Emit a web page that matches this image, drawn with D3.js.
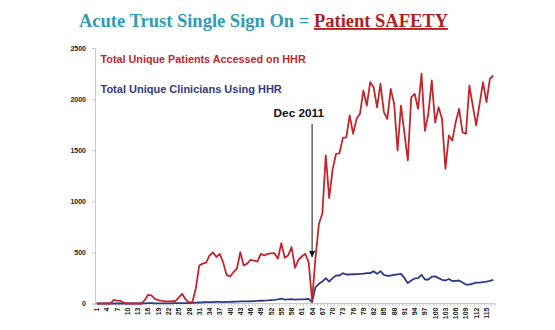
<!DOCTYPE html>
<html>
<head>
<meta charset="utf-8">
<script src="https://cdn.jsdelivr.net/npm/d3@7"></script>
<style>
  html, body { margin: 0; padding: 0; background: #fff; }
  svg { display: block; }
</style>
</head>
<body>
<svg id="chart" width="555" height="330"></svg>
<script>
// ---- Data ----
const categories = d3.range(1, 118); // 1..117
const patients = [
  0, 0, 0, 0, 0, 35, 28, 25, 5, 0,
  0, 0, 0, 0, 30, 85, 80, 46, 32, 25,
  22, 20, 22, 22, 60, 95, 40, 10, 15, 150,
  372, 390, 400, 470, 500, 455, 486, 400, 280, 264,
  306, 340, 502, 372, 390, 428, 420, 410, 486, 470,
  486, 490, 492, 437, 590, 447, 470, 551, 349, 428,
  460, 486, 404, 30, 450, 780, 880, 1450, 1030, 1310,
  1465, 1470, 1621, 1625, 1840, 1660, 1807, 1856, 2084, 1937,
  2166, 2117, 1920, 2150, 1872, 1807, 2100, 1954, 1497, 1937,
  1670, 1400, 2018, 2052, 1905, 2248, 1690, 1856, 2182, 1770,
  1920, 1807, 1318, 1644, 1595, 1774, 1905, 1676, 1660, 2133,
  1937, 1742, 1954, 2166, 1970, 2199, 2231
];
const clinicians = [
  0, 0, 0, 0, 0, 0, 0, 0, 0, 0,
  0, 0, 0, 0, 2, 3, 3, 2, 2, 2,
  2, 2, 2, 3, 3, 3, 3, 5, 6, 8,
  10, 12, 13, 14, 14, 15, 15, 14, 15, 16,
  17, 18, 20, 20, 21, 22, 24, 25, 27, 28,
  30, 33, 35, 40, 48, 38, 40, 42, 38, 40,
  40, 42, 45, 13, 160, 193, 215, 248, 215, 248,
  274, 274, 297, 284, 284, 286, 288, 290, 292, 297,
  297, 316, 290, 316, 280, 271, 274, 280, 286, 290,
  250, 199, 225, 245, 248, 281, 235, 235, 262, 265,
  248, 232, 225, 240, 220, 222, 225, 205, 185, 185,
  195, 205, 205, 210, 215, 222, 232
];
const yTicks = [0, 500, 1000, 1500, 2000, 2500];
const xTickLabels = categories.filter(c => (c - 1) % 3 === 0);
const titleMain = "Acute Trust Single Sign On = ";
const titleEmph = "Patient SAFETY";
const seriesNames = ["Total Unique Patients Accessed on HHR", "Total Unique Clinicians Using HHR"];
const annotation = { label: "Dec 2011", category: 64 };

// ---- Layout ----
const svg = d3.select("#chart");
const x = d3.scaleBand().domain(categories).range([95, 495]);
const y = d3.scaleLinear().domain([0, 2500]).range([303.5, 48]);
const cx = c => x(c) + x.bandwidth() / 2;

const red = "#c0272d";
const blue = "#2f3a85";

// Title
const title = svg.append("text")
  .attr("x", 263.5).attr("y", 27)
  .attr("text-anchor", "middle")
  .style("font-family", "'Liberation Serif', 'Times New Roman', serif")
  .style("font-weight", "bold")
  .style("font-size", "18.5px");
title.append("tspan").text(titleMain).attr("fill", "#2f9bb6");
title.append("tspan").text(titleEmph).attr("fill", "#b01e23")
  .style("text-decoration", "underline");

// Y axis
const yAxis = svg.append("g")
  .attr("transform", "translate(95,0)")
  .call(d3.axisLeft(y).tickValues(yTicks).tickSize(3).tickPadding(6).tickFormat(d3.format("d")));
yAxis.select(".domain").attr("stroke", "#c8c8c8");
yAxis.selectAll(".tick line").attr("stroke", "#c8c8c8");
yAxis.selectAll("text")
  .style("font-family", "'Liberation Sans', Arial, sans-serif")
  .style("font-weight", "bold")
  .style("font-size", "7px")
  .attr("fill", "#222");

// X axis
const xAxis = svg.append("g")
  .attr("transform", "translate(0,303.5)");
xAxis.append("line")
  .attr("x1", 95).attr("x2", 495).attr("y1", 0).attr("y2", 0)
  .attr("stroke", "#c8c8c8");
xAxis.selectAll("line.tk").data(categories.concat([118]))
  .join("line").attr("class", "tk")
  .attr("x1", c => c === 118 ? 495 : x(c))
  .attr("x2", c => c === 118 ? 495 : x(c))
  .attr("y1", 0).attr("y2", 2.5)
  .attr("stroke", "#c8c8c8");
xAxis.selectAll("text").data(xTickLabels).join("text")
  .attr("transform", c => `translate(${cx(c) + 2.5},4) rotate(-90)`)
  .attr("text-anchor", "end")
  .style("font-family", "'Liberation Sans', Arial, sans-serif")
  .style("font-weight", "bold")
  .style("font-size", "7px")
  .attr("fill", "#222")
  .text(c => c);

// Lines
const line = d3.line().x((d, i) => cx(categories[i])).y(d => y(d));
svg.append("path").datum(clinicians)
  .attr("d", line).attr("fill", "none")
  .attr("stroke", blue).attr("stroke-width", 1.8).attr("stroke-linejoin", "round");
svg.append("path").datum(patients)
  .attr("d", line).attr("fill", "none")
  .attr("stroke", red).attr("stroke-width", 1.8).attr("stroke-linejoin", "round");

// Legend texts
svg.append("text").attr("x", 100.5).attr("y", 63)
  .style("font-family", "'Liberation Sans', Arial, sans-serif")
  .style("font-weight", "bold").style("font-size", "10.8px")
  .attr("fill", red).text(seriesNames[0]);
svg.append("text").attr("x", 100.5).attr("y", 92.5)
  .style("font-family", "'Liberation Sans', Arial, sans-serif")
  .style("font-weight", "bold").style("font-size", "11px")
  .attr("fill", blue).text(seriesNames[1]);

// Annotation
const ax = cx(annotation.category);
svg.append("text").attr("x", ax + 12).attr("y", 117)
  .attr("text-anchor", "end")
  .style("font-family", "'Liberation Sans', Arial, sans-serif")
  .style("font-weight", "bold").style("font-size", "11.8px")
  .attr("fill", "#111").text(annotation.label);
svg.append("defs").append("marker")
  .attr("id", "arrow").attr("viewBox", "0 0 10 10")
  .attr("refX", 10).attr("refY", 5)
  .attr("markerWidth", 6).attr("markerHeight", 6)
  .attr("markerUnits", "userSpaceOnUse")
  .attr("orient", "auto")
  .append("path").attr("d", "M0,0 L10,5 L0,10 Z").attr("fill", "#111");
svg.append("line")
  .attr("x1", ax).attr("x2", ax)
  .attr("y1", 124).attr("y2", 257)
  .attr("stroke", "#111").attr("stroke-width", 1)
  .attr("marker-end", "url(#arrow)");
</script>
</body>
</html>
